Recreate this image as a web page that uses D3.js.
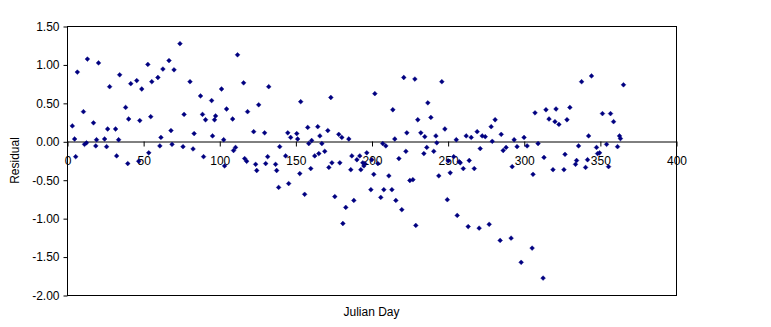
<!DOCTYPE html>
<html>
<head>
<meta charset="utf-8">
<script src="https://cdn.jsdelivr.net/npm/d3@7"></script>
<style>
  body { margin: 0; background: #fff; }
  svg { display: block; font-family: "Liberation Sans", Arial, sans-serif; }
</style>
</head>
<body>
<svg id="chart" width="771" height="327"></svg>
<script>
// julian day of each sample
const days = [
  3.5, 5.0, 5.7, 6.8, 10.8, 11.5, 12.8, 13.4, 17.4, 18.9, 19.4, 20.7, 24.7, 26.0, 26.7, 28.0,
  31.9, 32.6, 33.9, 34.6, 38.5, 39.9, 40.5, 41.9, 45.8, 47.1, 47.8, 49.1, 53.1, 53.7, 55.0, 55.7,
  59.7, 61.0, 61.7, 63.0, 67.0, 68.3, 69.0, 70.3, 74.2, 76.2, 76.9, 80.8, 82.8, 83.5,
  87.7, 89.0, 89.7, 91.0, 95.0, 95.6, 96.9, 97.6, 101.5, 102.9, 103.5, 104.8, 108.8, 109.4, 110.7,
  112.0, 116.0, 116.7, 118.0, 118.6, 122.6, 123.9, 124.6, 125.9, 129.8, 130.5, 131.8, 132.5,
  137.0, 137.7, 139.0, 139.7, 143.6, 145.0, 145.6, 146.9, 150.9, 151.5, 152.9, 153.5, 156.1,
  158.1, 158.8, 160.1, 160.7, 162.7, 164.7, 165.4, 166.1, 167.4, 169.3, 171.3, 172.0, 173.3,
  174.0, 175.9, 178.5, 179.2, 180.5, 181.2, 183.1, 185.1, 186.4, 187.1, 188.4, 190.4, 192.3,
  193.0, 194.3, 195.0, 195.6, 196.9, 199.6, 200.2, 201.5, 202.2, 204.2, 206.1, 207.4, 208.1,
  209.4, 211.4, 213.4, 214.0, 215.3, 216.0, 218.0, 219.9, 221.2, 222.6, 223.2, 225.2, 227.2,
  228.5, 229.1, 230.4, 232.4, 234.4, 235.0, 236.3, 237.0, 239.0, 240.9, 242.3, 242.9, 244.2,
  246.2, 248.2, 249.8, 250.4, 251.7, 254.0, 255.7, 256.3, 257.6, 258.3, 260.3, 262.2, 263.5,
  264.2, 265.5, 267.5, 269.4, 270.7, 271.4, 272.7, 274.7, 277.3, 278.6, 279.3, 281.2, 284.5,
  285.2, 286.5, 288.4, 291.7, 292.4, 293.7, 295.6, 298.3, 300.2, 302.2, 305.5, 306.1, 307.4,
  309.4, 312.7, 313.3, 314.6, 316.6, 319.2, 320.5, 321.2, 323.1, 326.4, 327.1, 328.4, 330.3,
  334.0, 334.7, 336.0, 338.0, 340.6, 341.9, 342.6, 344.5, 347.8, 348.5, 349.8, 351.7, 354.4,
  355.7, 357.0, 359.0, 361.6, 362.9, 363.5, 365.5
];

// residual for each sample
const residuals = [
  0.20, 0.03, -0.20, 0.90, 0.385, -0.04, -0.02, 1.07, 0.24, -0.06, 0.02, 1.02, 0.03, -0.07, 0.16, 0.71,
  0.16, -0.19, 0.02, 0.865, 0.44, -0.29, 0.29, 0.75, 0.79, -0.26, 0.27, 0.68, 1.00, -0.15, 0.32, 0.775,
  0.83, -0.06, 0.05, 0.94, 1.05, 0.14, -0.04, 0.93, 1.27, -0.07, 0.35, 0.775, -0.10, 0.10,
  0.59, 0.35, -0.20, 0.28, 0.53, 0.07, 0.28, 0.33, 0.68, 0.02, -0.32, 0.42, 0.29, -0.12, -0.08,
  1.125, 0.76, -0.225, -0.26, 0.385, 0.125, -0.30, -0.38, 0.475, 0.11, -0.29, -0.20, 0.71,
  -0.30, -0.38, -0.60, -0.07, -0.19, 0.11, -0.55, 0.05, 0.10, 0.03, -0.42, 0.515, -0.69,
  0.18, -0.03, -0.355, 0.01, -0.19, 0.19, -0.16, 0.07, -0.03, -0.13, 0.14, -0.34, 0.57,
  -0.28, -0.72, 0.09, -0.28, 0.05, -1.07, -0.86, 0.03, -0.37, -0.19, -0.77, -0.24, -0.19,
  -0.37, -0.28, -0.32, -0.29, -0.15, -0.63, -0.24, -0.43, 0.62, -0.29, -0.73, -0.03, -0.63,
  -0.06, -0.45, -0.63, 0.41, 0.03, -0.77, -0.225, -0.89, 0.83, -0.13, 0.11, -0.51, -0.50,
  0.81, -1.095, 0.28, 0.11, -0.16, 0.06, -0.08, 0.50, 0.31, -0.13, 0.07, -0.02, -0.45,
  0.775, 0.16, -0.76, -0.255, -0.41, -0.20, 0.02, -0.965, -0.265, -0.28, -0.355, 0.07, -1.11,
  -0.25, 0.05, -0.355, 0.125, -1.13, -0.095, 0.07, 0.06, -1.08, 0.19, 0.00, 0.28, -1.29,
  0.09, -0.12, -0.08, -1.26, -0.33, 0.02, -0.07, -1.575, 0.05, -0.06, -1.39, -0.43, 0.37,
  -0.03, -1.78, -0.21, 0.41, 0.29, -0.37, 0.255, 0.42, 0.22, -0.37, -0.17, 0.28, 0.44,
  -0.30, -0.25, -0.06, 0.775, -0.34, -0.24, 0.07, 0.85, -0.08, -0.16, -0.15, 0.36, -0.04,
  -0.33, 0.36, 0.255, -0.07, 0.07, 0.035, 0.735
];

const xTicks = [0, 50, 100, 150, 200, 250, 300, 350, 400];
const yTicks = [1.5, 1.0, 0.5, 0.0, -0.5, -1.0, -1.5, -2.0];

const margin = {top: 26, right: 95, bottom: 32, left: 67},
  width = 771 - margin.left - margin.right,
  height = 327 - margin.top - margin.bottom;

const svg = d3.select('#chart');

const x = d3.scaleLinear().domain([0, 400]).range([margin.left, margin.left + width]);
const y = d3.scaleLinear().domain([-2, 1.5]).range([margin.top + height, margin.top]);

// plot area border
svg.append('rect')
  .attr('x', margin.left + 0.5)
  .attr('y', margin.top + 0.5)
  .attr('width', width)
  .attr('height', height)
  .attr('fill', 'none')
  .attr('stroke', '#000');

// y axis
const yAxis = d3.axisLeft(y)
  .tickValues(yTicks)
  .tickSize(4)
  .tickPadding(4)
  .tickFormat(d => d.toFixed(2));

svg.append('g')
  .attr('transform', 'translate(' + (margin.left + 0.5) + ',0.5)')
  .call(yAxis)
  .call(g => g.select('.domain').remove())
  .call(g => g.selectAll('line').attr('stroke', '#000'))
  .call(g => g.selectAll('text').attr('fill', '#000').style('font-size', '12px'));

// x axis sits on the zero line
const xAxis = d3.axisBottom(x)
  .tickValues(xTicks)
  .tickSize(5)
  .tickSizeOuter(0)
  .tickPadding(10)
  .tickFormat(d3.format('d'));

svg.append('g')
  .attr('transform', 'translate(0.5,' + (Math.round(y(0)) + 0.5) + ')')
  .call(xAxis)
  .call(g => g.select('.domain').attr('stroke', '#000'))
  .call(g => g.selectAll('line').attr('stroke', '#000'))
  .call(g => g.selectAll('text').attr('fill', '#000').style('font-size', '12px'));

// points
const points = days.map((d, i) => [d, residuals[i]]);
svg.append('g')
  .selectAll('path')
  .data(points)
  .enter()
  .append('path')
  .attr('transform', d => 'translate(' + x(d[0]) + ',' + y(d[1]) + ')')
  .attr('d', 'M0,-2.4L2.4,0L0,2.4L-2.4,0Z')
  .attr('fill', '#000080')
  .attr('stroke', '#000080')
  .attr('stroke-width', 0.4);

// titles
svg.append('text')
  .attr('x', margin.left + width / 2)
  .attr('y', 316)
  .attr('text-anchor', 'middle')
  .style('font-size', '12px')
  .text('Julian Day');

svg.append('text')
  .attr('transform', 'translate(19,' + (margin.top + height / 2) + ')rotate(-90)')
  .attr('text-anchor', 'middle')
  .style('font-size', '12px')
  .text('Residual');
</script>
</body>
</html>
